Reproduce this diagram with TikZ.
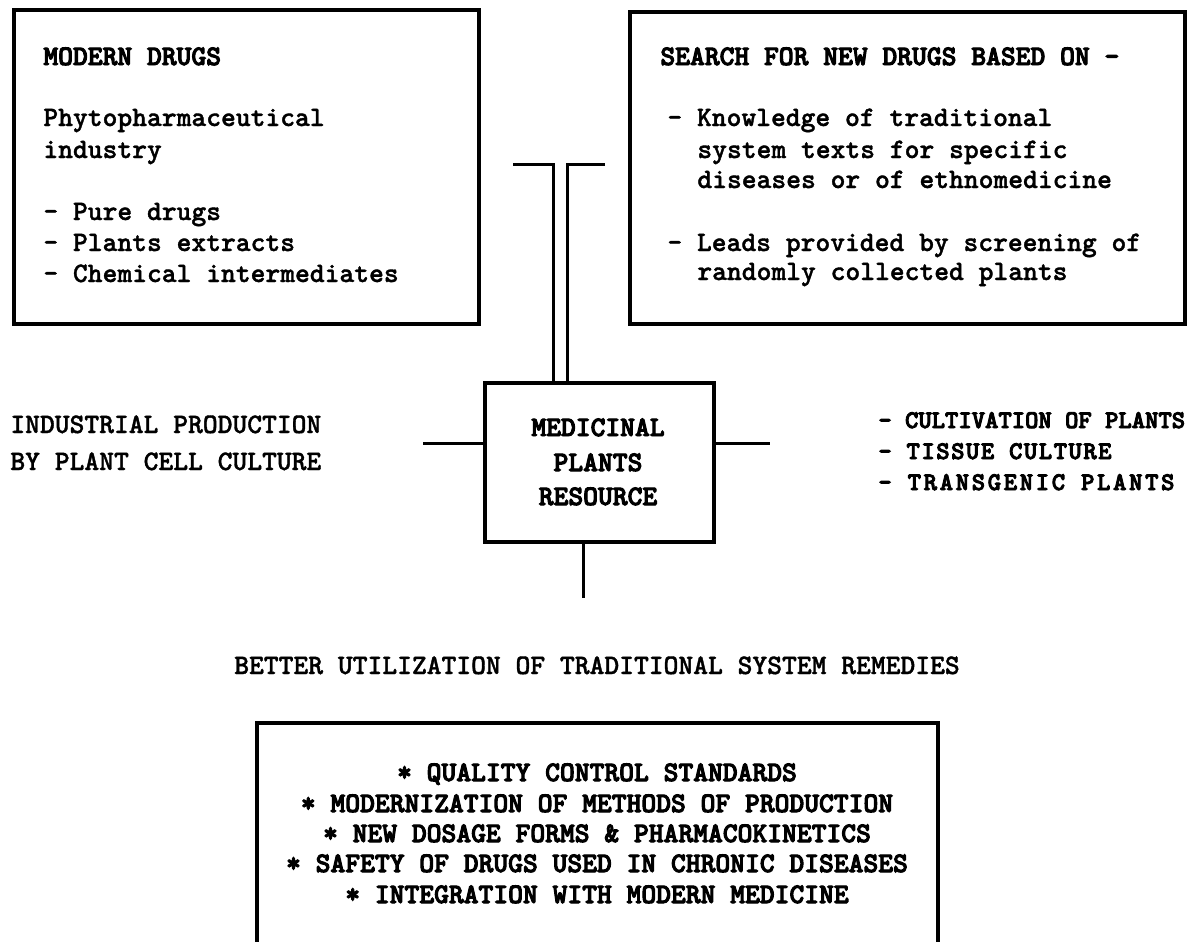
\documentclass[tikz,border=0pt]{standalone}
\usepackage{fontspec}
\newfontfamily\bodyfam{lmmonolt10-bold.otf}[AutoFakeBold=1.3]
\newfontfamily\headfam{lmmonolt10-bold.otf}[AutoFakeBold=3.5]
\newcommand\bodyf{\bodyfam\bfseries\fontsize{14.1pt}{17pt}\selectfont}
\newcommand\headf{\headfam\bfseries\fontsize{14.1pt}{17pt}\selectfont}
\newcommand\listf{\headfam\bfseries\fontsize{12.7pt}{15pt}\selectfont}
\tikzset{
  box/.style={draw, line width=1.8pt, inner sep=0pt, anchor=north west},
  conn/.style={line width=1.5pt},
  body/.style={inner sep=0pt, anchor=base west, font=\bodyf},
  head/.style={inner sep=0pt, anchor=base west, font=\headf},
  headc/.style={inner sep=0pt, anchor=base, font=\headf},
  bodyc/.style={inner sep=0pt, anchor=base, font=\bodyf},
  list/.style={inner sep=0pt, anchor=base west, font=\listf},
}
\begin{document}
\begin{tikzpicture}[x=0.5pt,y=-0.5pt]
\useasboundingbox (0,0) rectangle (1194,942);
% boxes
\node[box, minimum width=232.5pt, minimum height=157pt] (lb) at (12,8) {};
\node[box, minimum width=277.5pt, minimum height=156pt] (rb) at (628,10) {};
\node[box, minimum width=114.5pt, minimum height=79.5pt] (cb) at (483,381) {};
\node[inner sep=0pt, anchor=north west, minimum width=340pt, minimum height=109.5pt] (bb) at (257,723) {};
\draw[line width=1.8pt] (bb.south west) -- (bb.north west) -- (bb.north east) -- (bb.south east);
% left box text
\node[head] (l1) at (43,65) {MODERN DRUGS};
\node[body] (l2) at (43,126) {Phytopharmaceutical};
\node[body] (l3) at (43,158) {industry};
\node[body] (l4) at (43,220) {- Pure drugs};
\node[body] (l5) at (43,251) {- Plants extracts};
\node[body] (l6) at (43,282) {- Chemical intermediates};
% right box text
\node[head] (r1) at (660,65) {SEARCH FOR NEW DRUGS BASED ON -};
\node[body] (r2) at (667,126) {- Knowledge of traditional};
\node[body] (r3) at (697,158) {system texts for specific};
\node[body] (r4) at (697,188) {diseases or of ethnomedicine};
\node[body] (r5) at (667,251) {- Leads provided by screening of};
\node[body] (r6) at (697,280) {randomly collected plants};
% central box text
\node[headc] (c1) at (598,436) {MEDICINAL};
\node[headc] (c2) at (598,471) {PLANTS};
\node[headc] (c3) at (598,505) {RESOURCE};
% side texts
\node[body] (s1) at (10,433) {INDUSTRIAL PRODUCTION};
\node[body] (s2) at (10,470) {BY PLANT CELL CULTURE};
\node[list] (p1) at (878,428) {- CULTIVATION OF PLANTS};
\node[list] (p2) at (878,459) {\addfontfeatures{LetterSpace=6}- TISSUE CULTURE};
\node[list] (p3) at (878,490) {\addfontfeatures{LetterSpace=10.5}- TRANSGENIC PLANTS};
\node[bodyc] (bt) at (597,674) {BETTER UTILIZATION OF TRADITIONAL SYSTEM REMEDIES};
% bottom box text
\node[headc] (b1) at (597,781) {* QUALITY CONTROL STANDARDS};
\node[headc] (b2) at (597,812) {* MODERNIZATION OF METHODS OF PRODUCTION};
\node[headc] (b3) at (597,842) {* NEW DOSAGE FORMS \& PHARMACOKINETICS};
\node[headc] (b4) at (597,872) {* SAFETY OF DRUGS USED IN CHRONIC DISEASES};
\node[headc] (b5) at (597,903) {* INTEGRATION WITH MODERN MEDICINE};
% connectors
\coordinate (t1) at (513,164);
\coordinate (t2) at (605,164);
\coordinate (k1) at (553,381);
\coordinate (k2) at (567,381);
\draw[conn] (t1) -| (k1);
\draw[conn] (t2) -| (k2);
\coordinate (sl) at (423,443);
\coordinate (sr) at (770,443);
\coordinate (sb) at (583,598);
\draw[conn] (sl) -- (sl -| cb.west);
\draw[conn] (sr -| cb.east) -- (sr);
\draw[conn] (sb |- cb.south) -- (sb);
\end{tikzpicture}
\end{document}
